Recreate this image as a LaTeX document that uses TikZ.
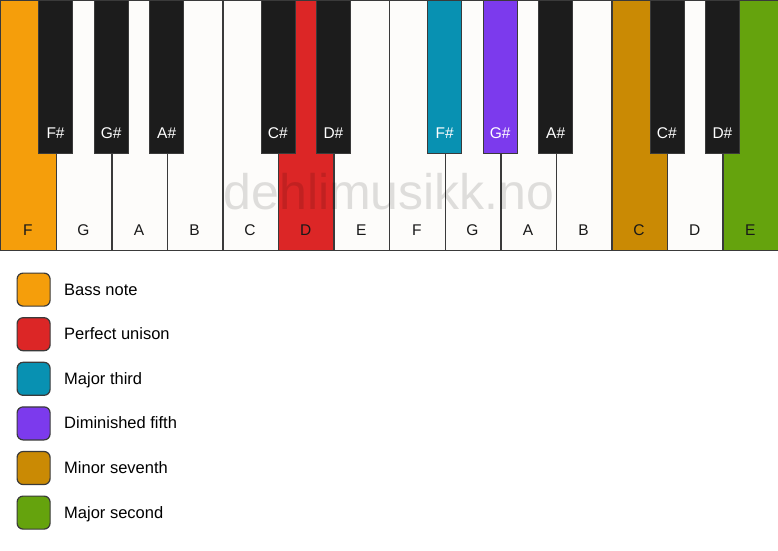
\documentclass[tikz,border=0pt]{standalone}
\usepackage{fontspec}
\setmainfont{Liberation Sans}
\definecolor{wkey}{HTML}{FDFCFA}
\definecolor{bkey}{HTML}{1C1C1C}
\definecolor{edge}{HTML}{3A3A3A}
\definecolor{cbass}{HTML}{F59E0B}
\definecolor{cuni}{HTML}{DC2626}
\definecolor{cthird}{HTML}{0891B2}
\definecolor{cfifth}{HTML}{7C3AED}
\definecolor{cseventh}{HTML}{CA8A04}
\definecolor{csecond}{HTML}{65A30D}
\tikzset{
  whitekey/.style={draw=edge, line width=1.4pt, fill=wkey, rectangle, inner sep=0pt, anchor=north west, minimum width=55.571pt, minimum height=250pt},
  blackkey/.style={draw=edge, line width=0.6pt, fill=bkey, rectangle, inner sep=0pt, anchor=north, minimum width=34pt, minimum height=153pt},
  wlabel/.style={font=\fontsize{15.5}{18}\selectfont, text=black!90, anchor=base},
  blabel/.style={font=\fontsize{15.5}{18}\selectfont, text=white, anchor=base},
  swatch/.style={draw=edge, line width=1.2pt, rounded corners=6pt, minimum width=33pt, minimum height=33pt, inner sep=0pt, anchor=north west},
  legtext/.style={font=\fontsize{16.5}{19}\selectfont, anchor=base west, inner sep=0pt}
}
\begin{document}
\begin{tikzpicture}[x=1pt,y=-1pt]
\useasboundingbox (0,0) rectangle (778,550);
\fill[white] (0,0) rectangle (778,550);
% white keys
\foreach \i/\n/\c in {0/F/cbass,1/G/wkey,2/A/wkey,3/B/wkey,4/C/wkey,5/D/cuni,6/E/wkey,7/F/wkey,8/G/wkey,9/A/wkey,10/B/wkey,11/C/cseventh,12/D/wkey,13/E/csecond}{
  \node[whitekey, fill=\c] (w\i) at ({\i*55.571},0) {};
  \node[wlabel] (wl\i) at ({\i*55.571+27.79},235.5) {\n};
}
% watermark
\node[font=\fontsize{50}{60}\selectfont, text=black, opacity=0.12] (wm) at (389,192) {dehlimusikk.no};
% black keys
\foreach \b/\n/\c in {1/F\#/bkey,2/G\#/bkey,3/A\#/bkey,5/C\#/bkey,6/D\#/bkey,8/F\#/cthird,9/G\#/cfifth,10/A\#/bkey,12/C\#/bkey,13/D\#/bkey}{
  \node[blackkey, fill=\c] (b\b) at ({\b*55.571},0) {};
  \node[blabel] (bl\b) at ({\b*55.571},138.5) {\n};
}
% legend
\foreach \k/\c/\t in {0/cbass/Bass note,1/cuni/Perfect unison,2/cthird/Major third,3/cfifth/Diminished fifth,4/cseventh/Minor seventh,5/csecond/Major second}{
  \node[swatch, fill=\c] (s\k) at (16.5,{272.5+\k*44.6}) {};
  \node[legtext] (t\k) at (64,{295+\k*44.6}) {\t};
}
\end{tikzpicture}
\end{document}
